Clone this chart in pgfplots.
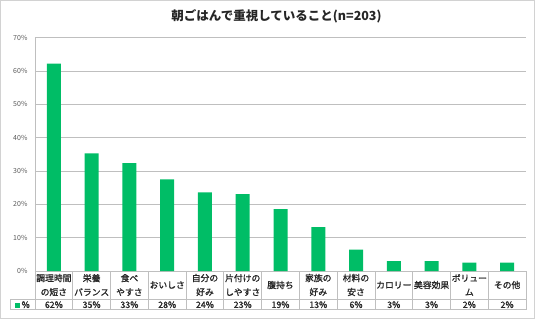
\documentclass[border=0pt]{standalone}
\usepackage{pgfplots}
\pgfplotsset{compat=1.18}
\usepackage{fontspec}
\setmainfont{Noto Sans CJK JP}
\newfontfamily\medfont{Noto Sans CJK JP}[FakeBold=1.2]
\definecolor{barg}{HTML}{00BD66}
\definecolor{gridg}{HTML}{BFBFBF}
\definecolor{txt}{HTML}{262626}
\definecolor{tk}{HTML}{595959}
\begin{document}
\begin{tikzpicture}[x=1pt,y=1pt]
\useasboundingbox (0,0) rectangle (536,322);
\draw[color=gray!35, line width=0.8pt] (0.8,3.3) rectangle (534.3,321.4);
\node[font=\bfseries\fontsize{12.5}{14}\selectfont, text=txt] at (276.5,306) {朝ごはんで重視していること(n=203)};
\begin{axis}[
 at={(35pt,51pt)}, anchor=south west, scale only axis, width=491pt, height=233.3pt,
 xmin=-0.5, xmax=12.5, ymin=0, ymax=70,
 axis x line*=bottom, axis y line*=left,
 axis line style={gridg, line width=0.8pt},
 ymajorgrids, grid style={gridg, line width=0.8pt},
 ytick={0,10,...,70}, yticklabel={\pgfmathprintnumber{\tick}\%},
 /pgf/number format/assume math mode=true,
 yticklabel style={font=\fontsize{7}{8}\selectfont, text=tk, anchor=east, xshift=-4pt},
 major tick length=0pt,
 xtick={0,...,12},
 xticklabels={{調理時間\\の短さ},{栄養\\バランス},{食べ\\やすさ},{おいしさ},{自分の\\好み},{片付けの\\しやすさ},{腹持ち},{家族の\\好み},{材料の\\安さ},{カロリー},{美容効果},{ボリュー\\ム},{その他}},
 xticklabel style={align=center, anchor=center, yshift=-14pt, font=\medfont\fontsize{8.8}{14}\selectfont, text=txt},
 clip=false,
]
\addplot[ybar, bar width=14pt, fill=barg, draw=none] coordinates {
 (0,62.2) (1,35.3) (2,32.4) (3,27.5) (4,23.6) (5,23.1) (6,18.6) (7,13.2) (8,6.4) (9,3.0) (10,3.0) (11,2.5) (12,2.5)};
\addplot[draw=none, mark=none, nodes near coords, point meta=explicit symbolic,
 nodes near coords style={anchor=center, yshift=-33.7pt, font=\medfont\fontsize{8.8}{10}\selectfont, text=txt}] coordinates {
 (0,0) [62\%] (1,0) [35\%] (2,0) [33\%] (3,0) [28\%] (4,0) [24\%] (5,0) [23\%] (6,0) [19\%] (7,0) [13\%] (8,0) [6\%] (9,0) [3\%] (10,0) [3\%] (11,0) [2\%] (12,0) [2\%]};
\end{axis}
\begin{scope}[gridg, line width=0.8pt]
\foreach \k in {0,...,13} \draw ({35+\k*37.769},51) -- ({35+\k*37.769},12.3);
\draw (10,22.3) -- (526,22.3);
\draw (10,12.3) -- (526,12.3);
\draw (10,22.3) -- (10,12.3);
\end{scope}
\node[font=\medfont\fontsize{8.8}{10}\selectfont, text=txt] at (22.5,17.3) {{\color{barg}\rule{5pt}{5pt}}\,\%};
\end{tikzpicture}
\end{document}
